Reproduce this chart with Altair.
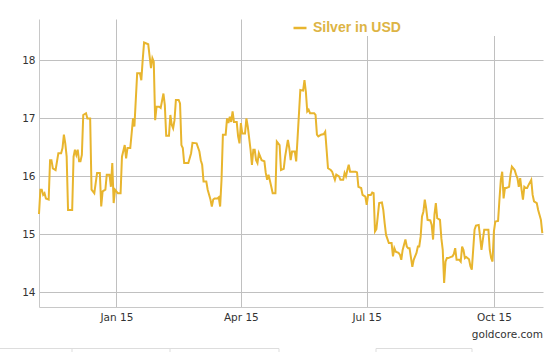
import altair as alt
import pandas as pd

dates = [
    "2014-11-06", "2014-11-07", "2014-11-08", "2014-11-09", "2014-11-10", "2014-11-11", "2014-11-13",
    "2014-11-14", "2014-11-15", "2014-11-16", "2014-11-18", "2014-11-20", "2014-11-22", "2014-11-23",
    "2014-11-24", "2014-11-25", "2014-11-26", "2014-11-27", "2014-11-30",
    "2014-12-01", "2014-12-02", "2014-12-03", "2014-12-04", "2014-12-05", "2014-12-06", "2014-12-07",
    "2014-12-08", "2014-12-10", "2014-12-11", "2014-12-13", "2014-12-14", "2014-12-16", "2014-12-18",
    "2014-12-20", "2014-12-21", "2014-12-22", "2014-12-24", "2014-12-25", "2014-12-27", "2014-12-28",
    "2014-12-29", "2014-12-30", "2014-12-31",
    "2015-01-02", "2015-01-04", "2015-01-05", "2015-01-07", "2015-01-08", "2015-01-09", "2015-01-11",
    "2015-01-12", "2015-01-13", "2015-01-14", "2015-01-16", "2015-01-18", "2015-01-19", "2015-01-20",
    "2015-01-21", "2015-01-24", "2015-01-25", "2015-01-26", "2015-01-27", "2015-01-28", "2015-01-29",
    "2015-01-30",
    "2015-02-01", "2015-02-02", "2015-02-04", "2015-02-05", "2015-02-06", "2015-02-08", "2015-02-09",
    "2015-02-10", "2015-02-11", "2015-02-12", "2015-02-13", "2015-02-15", "2015-02-16", "2015-02-17",
    "2015-02-18", "2015-02-19", "2015-02-22", "2015-02-24", "2015-02-25", "2015-02-28",
    "2015-03-02", "2015-03-03", "2015-03-04", "2015-03-05", "2015-03-07", "2015-03-08", "2015-03-10",
    "2015-03-11", "2015-03-12", "2015-03-13", "2015-03-15", "2015-03-16", "2015-03-17", "2015-03-18",
    "2015-03-19", "2015-03-21", "2015-03-22", "2015-03-23", "2015-03-24", "2015-03-25", "2015-03-26",
    "2015-03-27", "2015-03-29", "2015-03-30", "2015-03-31",
    "2015-04-01", "2015-04-02", "2015-04-04", "2015-04-05", "2015-04-06", "2015-04-08", "2015-04-09",
    "2015-04-10", "2015-04-11", "2015-04-12", "2015-04-13", "2015-04-14", "2015-04-16", "2015-04-18",
    "2015-04-19", "2015-04-20", "2015-04-21", "2015-04-23", "2015-04-24", "2015-04-26", "2015-04-27",
    "2015-04-29", "2015-04-30",
    "2015-05-02", "2015-05-03", "2015-05-05", "2015-05-06", "2015-05-07", "2015-05-08", "2015-05-10",
    "2015-05-11", "2015-05-12", "2015-05-14", "2015-05-16", "2015-05-17", "2015-05-18", "2015-05-19",
    "2015-05-20", "2015-05-21", "2015-05-24", "2015-05-25", "2015-05-26", "2015-05-27", "2015-05-29",
    "2015-05-31",
    "2015-06-01", "2015-06-02", "2015-06-03", "2015-06-05", "2015-06-06", "2015-06-08", "2015-06-09",
    "2015-06-11", "2015-06-12", "2015-06-14", "2015-06-15", "2015-06-16", "2015-06-17", "2015-06-18",
    "2015-06-19", "2015-06-23", "2015-06-24", "2015-06-25", "2015-06-27", "2015-06-28", "2015-06-30",
    "2015-07-01", "2015-07-02", "2015-07-04", "2015-07-05", "2015-07-06", "2015-07-07", "2015-07-08",
    "2015-07-09", "2015-07-10", "2015-07-12", "2015-07-13", "2015-07-14", "2015-07-15", "2015-07-17",
    "2015-07-18", "2015-07-19", "2015-07-20", "2015-07-21", "2015-07-22", "2015-07-24", "2015-07-25",
    "2015-07-26", "2015-07-27", "2015-07-29", "2015-07-30", "2015-07-31",
    "2015-08-01", "2015-08-03", "2015-08-04", "2015-08-06", "2015-08-07", "2015-08-08", "2015-08-09",
    "2015-08-10", "2015-08-11", "2015-08-12", "2015-08-13", "2015-08-14", "2015-08-16", "2015-08-17",
    "2015-08-18", "2015-08-19", "2015-08-20", "2015-08-21", "2015-08-23", "2015-08-24", "2015-08-25",
    "2015-08-26", "2015-08-27", "2015-08-28", "2015-08-29", "2015-08-31",
    "2015-09-01", "2015-09-02", "2015-09-03", "2015-09-04", "2015-09-06", "2015-09-07", "2015-09-08",
    "2015-09-09", "2015-09-10", "2015-09-11", "2015-09-13", "2015-09-14", "2015-09-15", "2015-09-16",
    "2015-09-17", "2015-09-18", "2015-09-20", "2015-09-21", "2015-09-22", "2015-09-23", "2015-09-24",
    "2015-09-27", "2015-09-28", "2015-09-29", "2015-09-30",
    "2015-10-01", "2015-10-02", "2015-10-04", "2015-10-05", "2015-10-06", "2015-10-07", "2015-10-08",
    "2015-10-09", "2015-10-10", "2015-10-12", "2015-10-13", "2015-10-14", "2015-10-16", "2015-10-17",
    "2015-10-18", "2015-10-19", "2015-10-20", "2015-10-21", "2015-10-22", "2015-10-23", "2015-10-24",
    "2015-10-25", "2015-10-26", "2015-10-28", "2015-10-29", "2015-10-30",
    "2015-11-01", "2015-11-02", "2015-11-04", "2015-11-05",
]

prices = [
    15.35, 15.77, 15.77, 15.68, 15.71, 15.62, 15.60,
    16.28, 16.28, 16.14, 16.11, 16.40, 16.40, 16.49,
    16.72, 16.57, 16.34, 15.42, 15.42,
    16.34, 16.46, 16.37, 16.46, 16.26, 16.26, 16.37,
    17.06, 17.09, 17.00, 17.00, 15.77, 15.71, 16.06,
    16.06, 15.48, 15.74, 15.77, 16.03, 16.03, 15.82,
    16.23, 15.54, 15.77,
    15.71, 15.71, 16.34, 16.54, 16.31, 16.49, 16.49,
    16.74, 17.00, 16.86, 17.78, 17.78, 17.66, 18.01,
    18.31, 18.28, 18.07, 17.87, 18.04, 17.98, 16.97,
    17.20,
    17.20, 17.18, 17.43, 17.23, 16.70, 16.70, 17.06,
    16.89, 16.83, 16.97, 17.32, 17.32, 17.26, 16.54,
    16.49, 16.23, 16.23, 16.40, 16.58, 16.57,
    16.43, 16.28, 16.20, 15.91, 15.91, 15.77, 15.60,
    15.48, 15.60, 15.62, 15.62, 15.64, 15.48, 15.94,
    16.72, 16.72, 17.00, 16.92, 17.03, 16.94, 17.12,
    16.94, 16.94, 16.69, 16.57,
    16.92, 16.74, 16.74, 17.00, 16.86, 16.46, 16.20,
    16.46, 16.46, 16.28, 16.23, 16.40, 16.28, 16.26,
    16.06, 15.94, 16.03, 15.82, 15.71, 15.71, 16.60,
    16.54, 16.11,
    16.13, 16.34, 16.63, 16.49, 16.28, 16.43, 16.43,
    16.26, 16.66, 17.49, 17.48, 17.66, 17.46, 17.12,
    17.15, 17.09, 17.09, 17.06, 16.72, 16.69, 16.72,
    16.73,
    16.77, 16.46, 16.14, 16.11, 16.08, 15.94, 16.03,
    16.00, 15.94, 15.94, 16.06, 16.00, 16.11, 16.20,
    16.08, 16.08, 16.07, 15.82, 15.80, 15.68, 15.65,
    15.51, 15.68, 15.68, 15.72, 15.71, 15.05, 15.09,
    15.31, 15.54, 15.55, 15.42, 15.19, 14.99, 14.85,
    14.85, 14.85, 14.62, 14.76, 14.70, 14.68, 14.65,
    14.56, 14.73, 14.91, 14.79, 14.76,
    14.76, 14.44, 14.56, 14.68, 14.79, 14.79, 14.96,
    15.31, 15.39, 15.60, 15.45, 15.25, 15.24, 15.16,
    14.91, 15.34, 15.54, 15.28, 15.25, 14.93, 14.73,
    14.16, 14.53, 14.59, 14.59, 14.61,
    14.62, 14.66, 14.76, 14.56, 14.56, 14.53, 14.79,
    14.73, 14.59, 14.61, 14.57, 14.45, 14.39, 14.73,
    15.08, 15.15, 15.16, 14.96, 14.73, 14.91, 15.08,
    15.08, 14.73, 14.59, 14.53,
    15.05, 15.22, 15.23, 15.60, 15.94, 16.08, 15.62,
    15.80, 15.80, 15.82, 16.03, 16.17, 16.11, 16.03,
    15.97, 15.82, 15.97, 15.77, 15.60, 15.82, 15.80,
    15.80, 15.85, 15.94, 15.68, 15.57,
    15.54, 15.42, 15.25, 15.02,
]

series_name = "Silver in USD"
y_ticks = [14, 15, 16, 17, 18]
x_tick_months = [(2015, 1), (2015, 4), (2015, 7), (2015, 10)]
credit_text = "goldcore.com"

GOLD = "#e8b52e"
GRID = "#c0c0c0"
AXIS_FONT = "DejaVu Sans"

df = pd.DataFrame({"date": dates, "price": prices, "series": series_name})

x_scale = alt.Scale(
    type="utc",
    domain=[
        alt.DateTime(year=2014, month=11, date=6, utc=True),
        alt.DateTime(year=2015, month=11, date=5, hours=12, utc=True),
    ],
)

line = alt.Chart(df).mark_line(strokeWidth=2, interpolate="linear").encode(
    x=alt.X(
        "date:T",
        scale=x_scale,
        title=None,
        axis=alt.Axis(
            values=[alt.DateTime(year=y, month=m, date=1, utc=True) for y, m in x_tick_months],
            labelExpr="utcFormat(datum.value, '%b %y')",
            grid=True,
            gridColor=GRID,
            ticks=False,
            domainColor="#c8c8c8",
            labelPadding=5,
            labelFont=AXIS_FONT,
            labelFontSize=10.5,
            labelColor="#333333",
        ),
    ),
    y=alt.Y(
        "price:Q",
        scale=alt.Scale(domain=[13.746, 18.716], nice=False, zero=False),
        title=None,
        axis=alt.Axis(
            values=y_ticks,
            grid=True,
            gridColor=GRID,
            ticks=False,
            domainColor="#c8c8c8",
            labelPadding=4,
            labelFont=AXIS_FONT,
            labelFontSize=10.5,
            labelColor="#333333",
        ),
    ),
    color=alt.Color(
        "series:N",
        scale=alt.Scale(domain=[series_name], range=[GOLD]),
        legend=alt.Legend(
            title=None,
            orient="none",
            legendX=253,
            legendY=1,
            padding=0,
            symbolType="stroke",
            symbolSize=169,
            symbolStrokeWidth=2.5,
            labelFont="Liberation Sans",
            labelFontWeight="bold",
            labelFontSize=14,
            labelColor="#ddb444",
            labelOffset=5,
        ),
    ),
)

one = pd.DataFrame({"k": [0]})

# white box behind the legend, masking the grid lines there
mask = alt.Chart(one).mark_rect(color="white").encode(
    x=alt.value(242), x2=alt.value(520), y=alt.value(-1), y2=alt.value(17)
)

credit = alt.Chart(pd.DataFrame({"t": [credit_text]})).mark_text(
    align="right", baseline="alphabetic", font=AXIS_FONT, fontSize=10.5, color="#333333"
).encode(x=alt.value(504), y=alt.value(318.5), text="t:N")

# faint boxes partly visible along the bottom edge
h_rules = alt.Chart(pd.DataFrame({"a": [-39, 337], "b": [240, 433]})).mark_rule(
    color="#dddddd", strokeWidth=1
).encode(x=alt.X("a:Q", scale=None), x2="b:Q", y=alt.value(329.5))
v_rules = alt.Chart(pd.DataFrame({"a": [33, 131, 240, 337, 433]})).mark_rule(
    color="#dddddd", strokeWidth=1
).encode(x=alt.X("a:Q", scale=None), y=alt.value(329.5), y2=alt.value(340))

chart = alt.layer(line, mask, credit, h_rules, v_rules).properties(
    width=504,
    height=288,
    padding={"left": 39, "top": 19, "right": 9, "bottom": 45},
    autosize=alt.AutoSizeParams(type="none"),
    background="white",
).configure_view(stroke=None)

chart.save("out.html", embed_options={"renderer": "svg", "actions": False})
